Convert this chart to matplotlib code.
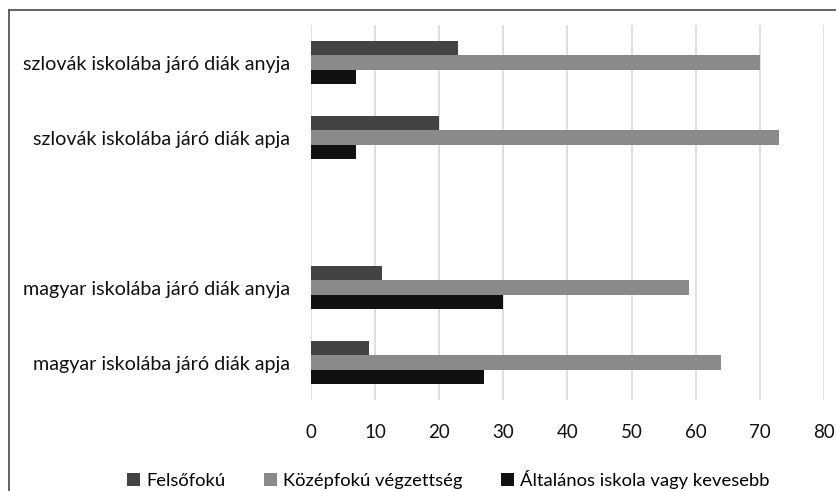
import numpy as np
import matplotlib
matplotlib.use("Agg")
import matplotlib.pyplot as plt
from matplotlib.lines import Line2D

plt.rcParams['font.family'] = ['Lato', 'DejaVu Sans']

# adatok (felülről lefelé)
categories = ["szlovák iskolába járó diák anyja",
              "szlovák iskolába járó diák apja",
              "magyar iskolába járó diák anyja",
              "magyar iskolába járó diák apja"]
felsofoku = [23, 20, 11, 9]
kozepfoku = [70, 73, 59, 64]
altalanos = [7, 7, 30, 27]
series_names = ["Felsőfokú", "Középfokú végzettség", "Általános iskola vagy kevesebb"]
x_ticks = [0, 10, 20, 30, 40, 50, 60, 70, 80]

COLORS = ["#434343", "#8a8a8a", "#111111"]

fig = plt.figure(figsize=(8.36, 4.91), dpi=100)
ax = fig.add_axes([0.372, 0.185, 0.6136, 0.764])

# üres hely a két iskolatípus között
pos = np.array([0, 1, 3, 4])
h = 0.193
for i, (vals, color, name) in enumerate(zip([felsofoku, kozepfoku, altalanos], COLORS, series_names)):
    ax.barh(pos + (i - 1) * h, vals, height=h, color=color, label=name, zorder=3)

ax.set_ylim(4.5, -0.5)
ax.set_xlim(0, 80)
ax.set_yticks(pos)
ax.set_yticklabels(categories, fontsize=14.2, color="#111111")
ax.set_xticks(x_ticks)
ax.set_xticklabels([str(t) for t in x_ticks], fontsize=13.5, color="#111111")
ax.tick_params(axis="y", length=0, pad=15)
ax.tick_params(axis="x", length=0, pad=17)
ax.grid(axis="x", color="#d9d9d9", linewidth=1.2, zorder=0)
for s in ax.spines.values():
    s.set_visible(False)

fig.legend(loc="center", bbox_to_anchor=(0.536, 0.024), ncol=3, frameon=False,
           fontsize=13.2, handlelength=0.75, handleheight=0.75, handletextpad=0.3,
           columnspacing=2.1)

# keret
fig.add_artist(Line2D([9 / 836, 1], [1 - 10 / 491, 1 - 10 / 491], color="#555555", linewidth=1.3))
fig.add_artist(Line2D([9 / 836, 9 / 836], [0, 1 - 10 / 491], color="#555555", linewidth=1.3))

fig.savefig("out.png", dpi=100)
